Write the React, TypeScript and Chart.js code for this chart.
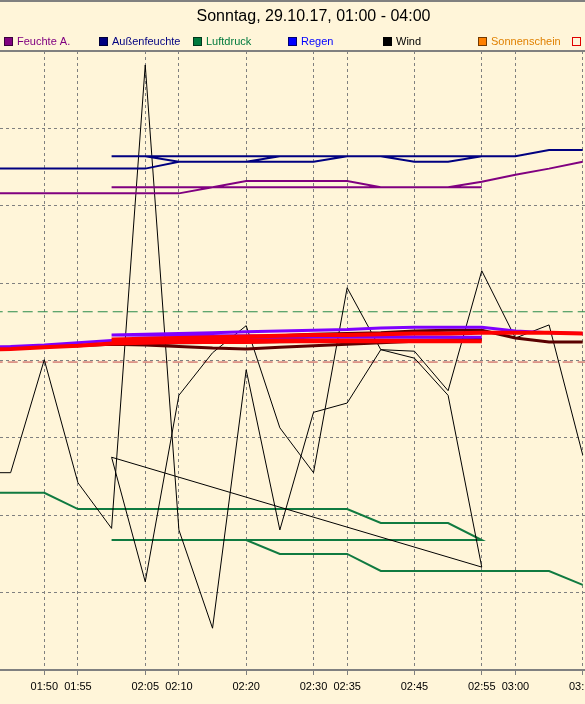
import { useEffect, useRef } from "react";
import { Chart, registerables } from "chart.js";

Chart.register(...registerables);

const TITLE = "Sonntag, 29.10.17, 01:00 - 04:00";

// x = minutes after 01:00. The night of the DST change: the hour 02:00-03:00
// is recorded twice (first in CEST, then again in CET).
const timesCEST = [40, 45, 50, 55, 60, 65, 70, 75, 80, 85, 90, 95, 100, 105, 110, 115];
const timesCET = [60, 65, 70, 75, 80, 85, 90, 95, 100, 105, 110, 115, 120, 125, 130];

const feuchteA_CEST = [61.6, 61.6, 61.6, 61.6, 61.6, 61.6, 61.6, 62.4, 63.2, 63.2, 63.2, 63.2, 62.4, 62.4, 62.4, 62.4];
const feuchteA_CET = [62.4, 62.4, 62.4, 62.4, 62.4, 62.4, 62.4, 62.4, 62.4, 62.4, 62.4, 63.1, 64.0, 64.8, 65.7];

const aussen_CEST = [64.8, 64.8, 64.8, 64.8, 64.8, 64.8, 65.7, 65.7, 65.7, 66.4, 66.4, 66.4, 66.4, 65.7, 65.7, 66.4];
const aussen_CET = [66.4, 66.4, 65.7, 65.7, 65.7, 65.7, 65.7, 66.4, 66.4, 66.4, 66.4, 66.4, 66.4, 67.2, 67.2];

const luft_CEST = [22.9, 22.9, 22.9, 20.8, 20.8, 20.8, 20.8, 20.8, 20.8, 20.8, 20.8, 20.8, 19.0, 19.0, 19.0, 16.8];
const luft_CET = [16.8, 16.8, 16.8, 16.8, 16.8, 15.0, 15.0, 15.0, 12.8, 12.8, 12.8, 12.8, 12.8, 12.8, 11.0];

const wind_CEST = [25.5, 25.5, 40.1, 24.2, 18.3, 78.2, 18.1, 5.4, 38.8, 18.1, 33.3, 34.5, 41.4, 40.3, 35.5, 13.3];
const wind_CET = [27.5, 11.4, 35.5, 41.0, 44.5, 31.3, 25.5, 49.4, 41.4, 41.2, 36.1, 51.6, 42.9, 44.6, 27.8];

const temp_CEST = [41.4, 41.5, 41.7, 41.9, 42.2, 42.3, 42.4, 42.4, 42.4, 42.5, 42.5, 42.5, 42.5, 42.5, 42.5, 42.5];
const temp_CET = [42.7, 42.8, 42.9, 43.0, 43.1, 43.2, 43.3, 43.3, 43.4, 43.5, 43.5, 43.6, 43.6, 43.6, 43.5];

const taupunkt_CEST = [41.7, 41.8, 42.0, 42.3, 42.6, 42.7, 42.8, 42.8, 42.9, 42.9, 43.0, 43.0, 43.0, 43.0, 43.0, 43.0];
const taupunkt_CET = [43.3, 43.4, 43.5, 43.6, 43.7, 43.8, 43.9, 44.0, 44.2, 44.3, 44.3, 44.3, 43.8, 43.6, 43.5];

const innen_CEST = [41.6, 41.7, 41.8, 41.9, 42.1, 42.0, 41.8, 41.6, 41.5, 41.7, 41.9, 42.1, 42.3, 42.5, 42.6, 42.7];
const innen_CET = [42.2, 42.4, 42.6, 42.8, 43.0, 43.2, 43.4, 43.5, 43.6, 43.8, 43.9, 43.9, 42.9, 42.4, 42.4];

// dashed reference levels (green upper, red lower)
const referenceLevels = [46.3, 39.8];

const tickMinutes = [45, 50, 55, 60, 65, 70, 75, 80, 85, 90, 95, 100, 105, 110, 115, 120, 125, 130];
const tickLabels = ["01:50", "01:55", "02:05", "02:10", "02:20", "02:30", "02:35", "02:45", "02:55", "03:00", "03:10"];

const legendNames = ["Feuchte A.", "Außenfeuchte", "Luftdruck", "Regen", "Wind", "Sonnenschein", "Temperatur", "Taupunkt", "Innentemperatur"];
const legendBox = ["#800080", "#000080", "#007a3d", "#0000ff", "#000000", "#ff8000", null, "#7f00ff", "#5a0000"];
const legendText = ["#800080", "#000080", "#007a3d", "#0000ff", "#000000", "#e08000", "#e00000", "#7f00ff", "#5a0000"];

const BG = "#fff5d9";
const GRID = "#808080";
const FONT = '"Liberation Sans", Arial, sans-serif';

const X_MIN = 43.42;
const X_MAX = 136.58;

function fmt(m: number) {
  const h = Math.floor(m / 60) + 1;
  const mm = m % 60;
  return String(h).padStart(2, "0") + ":" + String(mm).padStart(2, "0");
}
function isLabeled(v: number) {
  return tickLabels.includes(fmt(v));
}
function seq(tA: number[], vA: number[], tB: number[], vB: number[]) {
  return [
    ...tA.map((t, i) => ({ x: t, y: vA[i] })),
    ...tB.map((t, i) => ({ x: t, y: vB[i] })),
  ];
}
function level(v: number) {
  return [
    { x: X_MIN - 10, y: v },
    { x: X_MAX + 10, y: v },
  ];
}

const framePlugin = {
  id: "frame",
  beforeDraw(chart: any) {
    const ctx = chart.ctx;
    ctx.save();
    ctx.fillStyle = BG;
    ctx.fillRect(0, 0, chart.width, chart.height);
    ctx.restore();
  },
  afterDraw(chart: any) {
    const ctx = chart.ctx;
    const a = chart.chartArea;
    ctx.save();
    ctx.strokeStyle = GRID;
    ctx.lineWidth = 2;
    ctx.beginPath();
    ctx.moveTo(0, a.top);
    ctx.lineTo(chart.width, a.top);
    ctx.moveTo(0, 1);
    ctx.lineTo(chart.width, 1);
    ctx.stroke();
    // legend in fixed-width columns
    ctx.font = "11px " + FONT;
    ctx.textBaseline = "middle";
    ctx.textAlign = "left";
    legendNames.forEach((name, i) => {
      const x = Math.round(4 + i * 94.7);
      const y = 37;
      ctx.lineWidth = 1;
      const fill = legendBox[i];
      if (fill) {
        ctx.fillStyle = fill;
        ctx.fillRect(x, y, 9, 9);
        ctx.strokeStyle = "rgba(0,0,0,0.55)";
      } else {
        ctx.strokeStyle = legendText[i];
      }
      ctx.strokeRect(x + 0.5, y + 0.5, 8, 8);
      ctx.fillStyle = legendText[i];
      ctx.fillText(name, x + 13, 41.5);
    });
    ctx.restore();
  },
};

export default function App() {
  const ref = useRef<HTMLCanvasElement | null>(null);

  useEffect(() => {
    if (!ref.current) return;
    const line = (label: string, data: any[], color: string, width: number, order: number, dash?: number[]) => ({
      label,
      data,
      borderColor: color,
      backgroundColor: color,
      borderWidth: width,
      pointRadius: 0,
      tension: 0,
      fill: false,
      order,
      borderDash: dash || [],
    });
    const chart = new Chart(ref.current, {
      type: "line",
      data: {
        datasets: [
          line("Temperatur", seq(timesCEST, temp_CEST, timesCET, temp_CET), "#ff0000", 4, 0),
          line("Taupunkt", seq(timesCEST, taupunkt_CEST, timesCET, taupunkt_CET), "#7f00ff", 3, 1),
          line("Innentemperatur", seq(timesCEST, innen_CEST, timesCET, innen_CET), "#5a0000", 3, 2),
          line("Feuchte A.", seq(timesCEST, feuchteA_CEST, timesCET, feuchteA_CET), "#800080", 2, 3),
          line("Außenfeuchte", seq(timesCEST, aussen_CEST, timesCET, aussen_CET), "#000080", 2, 4),
          line("Wind", seq(timesCEST, wind_CEST, timesCET, wind_CET), "#000000", 1, 5),
          line("Luftdruck", seq(timesCEST, luft_CEST, timesCET, luft_CET), "#107a40", 2, 6),
          line("Regen", [], "#0000ff", 1, 7),
          line("Sonnenschein", [], "#ff8000", 1, 8),
          line("Grenze oben", level(referenceLevels[0]), "#2a8a4a", 1, 9, [10, 5]),
          line("Grenze unten", level(referenceLevels[1]), "#c04444", 1, 10, [10, 5]),
        ],
      },
      options: {
        responsive: false,
        animation: false,
        devicePixelRatio: 1,
        layout: { padding: 0 },
        plugins: {
          legend: { display: false },
          tooltip: { enabled: false },
          title: {
            display: true,
            text: TITLE,
            color: "#000000",
            font: { family: FONT, size: 16, weight: "normal" },
            padding: { top: 7, bottom: 24.8 },
          },
        },
        scales: {
          x: {
            type: "linear",
            position: "bottom",
            min: X_MIN,
            max: X_MAX,
            afterBuildTicks: (s: any) => {
              s.ticks = tickMinutes.map((v) => ({ value: v }));
            },
            afterFit: (s: any) => {
              s.height = 34;
            },
            ticks: {
              autoSkip: false,
              maxRotation: 0,
              minRotation: 0,
              padding: 5,
              color: "#000000",
              font: { family: FONT, size: 11 },
              callback: (v: any) => (isLabeled(Number(v)) ? fmt(Number(v)) : ""),
            },
            grid: {
              color: (c: any) => (c.tick && isLabeled(c.tick.value) ? GRID : "rgba(0,0,0,0)"),
              tickColor: (c: any) => (c.tick && isLabeled(c.tick.value) ? GRID : "rgba(0,0,0,0)"),
              lineWidth: 1,
              drawTicks: true,
              tickLength: 5,
            },
            border: { display: true, color: GRID, width: 2, dash: [3, 3] },
          },
          y: {
            type: "linear",
            min: 0,
            max: 80,
            afterFit: (s: any) => {
              s.width = 0;
            },
            ticks: { display: false, stepSize: 10 },
            grid: { color: GRID, lineWidth: 1, drawTicks: false },
            border: { display: false, dash: [3, 3] },
          },
        },
      },
      plugins: [framePlugin],
    } as any);
    return () => chart.destroy();
  }, []);

  return (
    <div
      style={{
        position: "fixed",
        left: 0,
        top: 0,
        width: 585,
        height: 704,
        overflow: "hidden",
        background: BG,
      }}
    >
      <canvas ref={ref} width={627} height={704} style={{ display: "block", width: 627, height: 704 }} />
    </div>
  );
}
